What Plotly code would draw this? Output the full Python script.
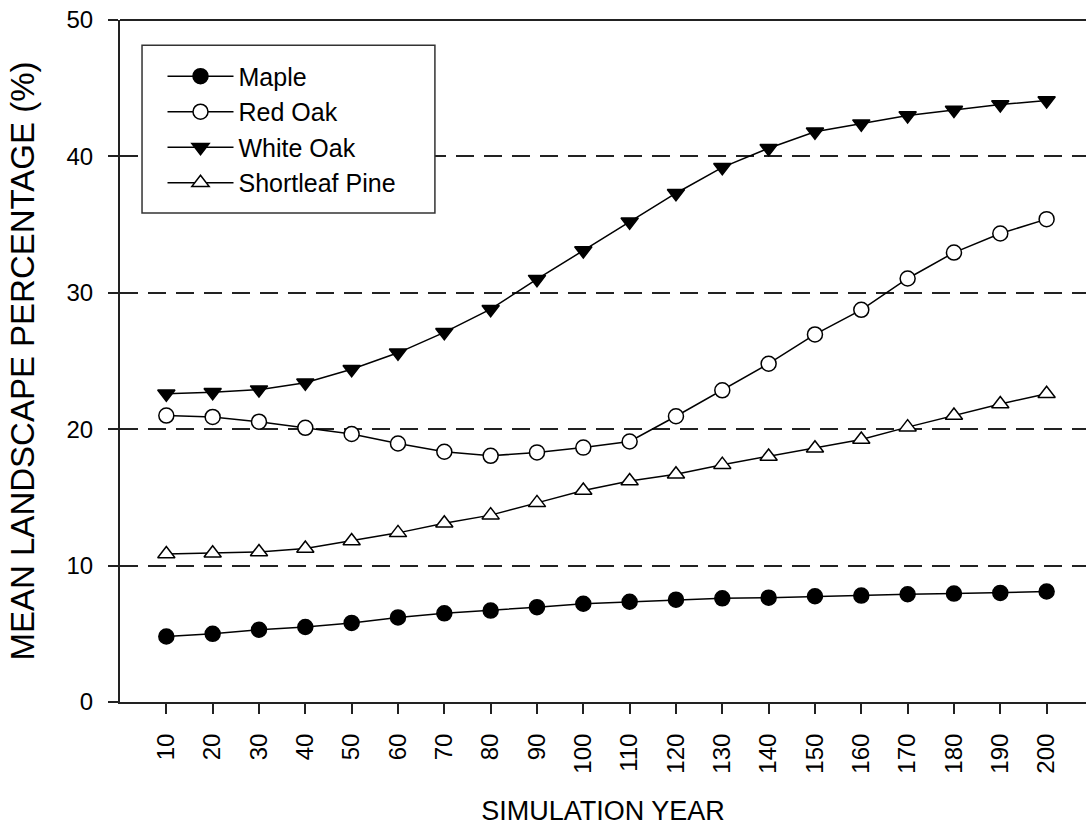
import plotly.graph_objects as go

years = [10, 20, 30, 40, 50, 60, 70, 80, 90, 100, 110, 120, 130, 140, 150, 160, 170, 180, 190, 200]
maple = [4.8, 5.0, 5.3, 5.5, 5.8, 6.2, 6.5, 6.7, 6.95, 7.2, 7.35, 7.5, 7.6, 7.65, 7.75, 7.8, 7.9, 7.95, 8.0, 8.1]
red_oak = [21.0, 20.9, 20.55, 20.1, 19.65, 18.95, 18.35, 18.05, 18.3, 18.65, 19.1, 20.95, 22.85, 24.8, 26.95, 28.75, 31.05, 32.95, 34.35, 35.4]
white_oak = [22.6, 22.7, 22.9, 23.4, 24.4, 25.6, 27.1, 28.8, 31.0, 33.1, 35.2, 37.3, 39.2, 40.6, 41.8, 42.4, 43.0, 43.4, 43.8, 44.1]
shortleaf = [10.85, 10.9, 11.0, 11.25, 11.8, 12.4, 13.1, 13.7, 14.6, 15.5, 16.2, 16.7, 17.4, 18.0, 18.6, 19.25, 20.15, 21.0, 21.85, 22.6]

series = [
    ("Maple", maple, "circle", "black", 15),
    ("Red Oak", red_oak, "circle", "white", 15),
    ("White Oak", white_oak, "triangle-down", "black", 15),
    ("Shortleaf Pine", shortleaf, "triangle-up", "white", 15),
]

FONT = "Liberation Sans, Arial, sans-serif"

fig = go.Figure()
for name, vals, sym, fill, size in series:
    fig.add_trace(go.Scatter(
        x=years, y=vals, name=name, mode="lines+markers",
        line=dict(color="black", width=1.5),
        marker=dict(symbol=sym, size=size, color=fill, line=dict(color="black", width=1.5)),
    ))

fig.update_layout(
    width=1086, height=832,
    margin=dict(l=120, r=0, t=20, b=130),
    plot_bgcolor="white", paper_bgcolor="white",
    font=dict(family=FONT, color="black"),
    showlegend=True,
    legend=dict(
        x=0.044, y=0.951, xanchor="left", yanchor="top",
        borderwidth=0, bgcolor="rgba(0,0,0,0)",
        font=dict(size=25, family=FONT), tracegroupgap=0,
        itemwidth=66,
    ),
    xaxis=dict(
        range=[0, 208.5], tickmode="array", tickvals=years, ticktext=[str(y) for y in years],
        tickangle=-90, ticks="outside", ticklen=10, tickwidth=1.5, tickcolor="#222",
        showline=True, linecolor="#222", linewidth=2, showgrid=False, zeroline=False,
        tickfont=dict(size=24, family=FONT), ticklabelstandoff=10,
        title=dict(text="SIMULATION YEAR", font=dict(size=27, family=FONT), standoff=28),
    ),
    yaxis=dict(
        range=[0, 50], tickvals=[0, 10, 20, 30, 40, 50], ticks="outside", ticklen=10,
        tickwidth=1.5, tickcolor="#222", showline=True, linecolor="#222", linewidth=2,
        showgrid=True, gridcolor="#222", gridwidth=1.5, griddash="18px,10px", zeroline=False,
        tickfont=dict(size=24, family=FONT), ticklabelstandoff=10,
        title=dict(text="MEAN LANDSCAPE PERCENTAGE (%)", font=dict(size=33, family=FONT), standoff=22),
    ),
)
fig.add_shape(type="line", xref="paper", yref="paper", x0=0, x1=1, y0=1, y1=1,
              line=dict(color="#222", width=2))
# legend frame
fig.add_shape(type="rect", xref="paper", yref="paper", x0=0.0228, x1=0.326, y0=0.717, y1=0.963,
              line=dict(color="#333", width=1.5), fillcolor="white", layer="above")

fig.write_html("out.html")
